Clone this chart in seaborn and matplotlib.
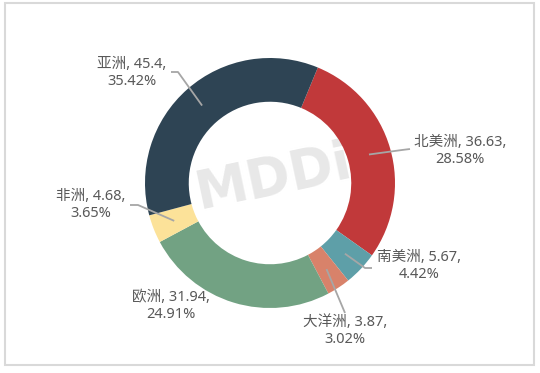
import numpy as np
import seaborn as sns
import matplotlib.pyplot as plt
from matplotlib.patches import Rectangle

# data (clockwise from the top, as in the reference)
regions = ["北美洲", "南美洲", "大洋洲", "欧洲", "非洲", "亚洲"]
values = [36.63, 5.67, 3.87, 31.94, 4.68, 45.4]
shares = ["28.58%", "4.42%", "3.02%", "24.91%", "3.65%", "35.42%"]
colors = ["#C1393A", "#5E9FA8", "#D8826A", "#72A283", "#FCE299", "#2E4454"]

# label layout in pixel coords (x, y from top): text centre, line end, elbow
label_pos = [(460, 151), (419, 266), (345, 331), (171, 306), (91, 205), (132, 73)]
line_end = [(410, 149), (372, 268), (345, 313), None, (130, 205), (171, 72)]
line_elbow = [(402, 150), (365, 268), (345, 313), None, (138, 205), (178, 72)]

W, H = 540, 373
sns.set_theme(style="white")
plt.rcParams["font.family"] = ["Noto Sans", "Noto Sans CJK SC"]

fig = plt.figure(figsize=(W / 100, H / 100), dpi=100)
ax = fig.add_axes([0, 0, 1, 1])

cx, cy, R = 270, H - 183, 125
wedges, _ = ax.pie(
    values,
    colors=colors,
    startangle=90 - 22.5,
    counterclock=False,
    center=(cx, cy),
    radius=R,
    wedgeprops=dict(width=R * 0.35, linewidth=0),
)
ax.set_xlim(0, W)
ax.set_ylim(0, H)
ax.set_aspect("auto")
ax.axis("off")

# watermark
ax.text(cx + 3, cy + 5, "MDDi", ha="center", va="center", fontsize=38,
        fontweight="bold", color="#E8E8E8", rotation=12,
        family="DejaVu Sans", zorder=0)

# labels and leader lines
for i, w in enumerate(wedges):
    tx, ty = label_pos[i]
    ax.text(tx, H - ty + 8.5, f"{regions[i]}, {values[i]},",
            ha="center", va="center", fontsize=10.5, color="#595959")
    ax.text(tx, H - ty - 8.5, shares[i],
            ha="center", va="center", fontsize=10.5, color="#595959",
            family="Noto Sans")
    if line_end[i] is None:
        continue
    mid = np.deg2rad((w.theta1 + w.theta2) / 2)
    ax_, ay_ = cx + 103 * np.cos(mid), cy + 103 * np.sin(mid)
    ex, ey = line_elbow[i]
    fx, fy = line_end[i]
    ax.plot([ax_, ex, fx], [ay_, H - ey, H - fy], color="#A6A6A6", lw=1.3,
            solid_capstyle="butt")

# outer frame
fig.patches.append(Rectangle((4.5 / W, 1 - 365 / H), 529 / W, 362 / H,
                             transform=fig.transFigure, fill=False,
                             edgecolor="#D9D9D9", lw=1.5))

fig.savefig("out.png", dpi=100)
